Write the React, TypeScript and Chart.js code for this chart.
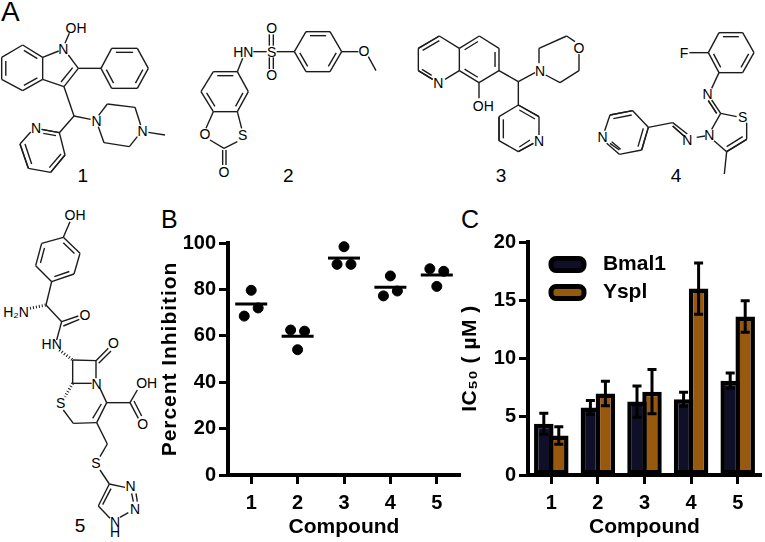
import React, { useEffect, useRef } from "react";
import { Chart, registerables } from "chart.js";

Chart.register(...registerables);

// ---- data ----
const compounds = [1, 2, 3, 4, 5];
const inhibitionMeans = [73.7, 59.8, 93.5, 80.9, 86.2];
const replicateX = [1, 0.85, 1.15, 1.85, 2.15, 2, 3, 2.85, 3.15, 4, 4.15, 3.85, 4.85, 5.15, 5];
const replicateY = [79.6, 68.5, 72, 62.5, 62, 54, 98.4, 90.8, 90.8, 85.8, 79.3, 77.2, 88.9, 87.8, 81.3];

const bmal1 = [4.4, 5.8, 6.3, 6.5, 8.1];
const bmal1Err = [0.9, 0.6, 1.35, 0.6, 0.65];
const yspl = [3.4, 7.0, 7.15, 16.0, 13.6];
const ysplErr = [0.75, 1.05, 1.9, 2.2, 1.35];

const FONT = "'Liberation Sans', Arial, sans-serif";
const NAVY = "#100f28";
const BROWN = "#98590e";

// ---- structure drawing (panel A and compound 5), coordinates in 3x crop space ----
type Pt = [number, number];
type Ring = { pts: Pt[]; doubles: number[] };
type Mol = {
  ox: number;
  oy: number;
  lines: number[][];
  rings: Ring[];
  doubleBonds: number[][];
  hashes: number[][];
  atoms: [string, number, number][];
};

const mols: Mol[] = [
  {
    ox: 0,
    oy: 0,
    rings: [
      { pts: [[68, 135], [128, 172], [128, 238], [68, 272], [5, 238], [5, 172]], doubles: [0, 2, 4] },
      { pts: [[303, 205], [335, 145], [412, 145], [445, 205], [412, 265], [335, 265]], doubles: [1, 3, 5] },
    ],
    lines: [
      [128, 172, 176, 153], [205, 165, 235, 205], [192, 260, 128, 238], [195, 130, 208, 100],
      [235, 205, 303, 205], [192, 260, 222, 348], [222, 348, 272, 358], [222, 348, 178, 398],
      [125, 388, 178, 398], [92, 396, 60, 432], [60, 432, 85, 505], [85, 505, 152, 517], [152, 517, 195, 465], [195, 465, 178, 398],
      [296, 346, 322, 312], [322, 312, 405, 322], [405, 322, 422, 375], [412, 410, 388, 440], [388, 440, 312, 428], [312, 428, 295, 380],
      [445, 397, 495, 405],
    ],
    doubleBonds: [
      [235, 205, 192, 260, 218, 203, 183, 246], [125, 388, 178, 398, 130, 400, 168, 407],
      [60, 432, 85, 505, 75, 432, 95, 492], [152, 517, 195, 465, 148, 503, 183, 462],
    ],
    hashes: [],
    atoms: [["OH", 228, 84], ["N", 190, 148], ["N", 108, 385], ["N", 290, 362], ["N", 428, 392], ["1", 248, 525]],
  },
  {
    ox: 0,
    oy: 0,
    rings: [
      { pts: [[640, 215], [712, 215], [745, 275], [712, 335], [640, 335], [603, 275]], doubles: [0, 2, 4] },
      { pts: [[883, 155], [918, 95], [990, 95], [1025, 155], [990, 215], [918, 215]], doubles: [1, 3, 5] },
    ],
    lines: [
      [712, 335, 725, 385], [712, 425, 672, 445], [672, 445, 630, 420], [618, 385, 640, 335],
      [712, 215, 728, 175], [760, 155, 800, 155], [830, 155, 883, 155], [1025, 155, 1075, 155], [1105, 170, 1128, 212],
      [668, 450, 668, 495], [678, 450, 678, 495],
      [808, 103, 808, 137], [820, 103, 820, 137], [808, 172, 808, 207], [820, 172, 820, 207],
    ],
    doubleBonds: [],
    hashes: [],
    atoms: [["O", 615, 403], ["S", 728, 405], ["O", 672, 515], ["HN", 730, 155], ["S", 815, 155], ["O", 815, 85], ["O", 815, 225], ["O", 1092, 153], ["2", 865, 525]],
  },
  {
    ox: 380,
    oy: 0,
    rings: [
      { pts: [[238, 145], [298, 108], [357, 145], [357, 212], [297, 248], [238, 212]], doubles: [0, 2, 4] },
    ],
    lines: [
      [115, 145, 178, 108], [178, 108, 238, 145], [238, 212, 195, 238], [158, 238, 115, 212], [115, 212, 115, 145],
      [297, 248, 297, 295], [357, 212, 415, 245], [415, 245, 465, 218],
      [477, 190, 477, 145], [477, 145, 560, 108], [560, 108, 585, 125], [597, 162, 597, 212], [597, 212, 540, 248], [540, 248, 497, 225],
      [415, 245, 415, 315], [415, 315, 477, 350], [477, 350, 477, 405], [460, 430, 415, 455], [415, 455, 357, 422], [357, 422, 357, 350], [357, 350, 415, 315],
    ],
    doubleBonds: [
      [115, 145, 178, 108, 128, 151, 178, 122], [158, 238, 115, 212, 155, 226, 126, 208],
      [415, 315, 477, 350, 418, 330, 465, 357], [460, 430, 415, 455, 450, 420, 418, 441], [357, 422, 357, 350, 370, 415, 370, 358],
    ],
    hashes: [],
    atoms: [["N", 175, 248], ["OH", 310, 318], ["N", 480, 212], ["O", 597, 143], ["N", 477, 423], ["3", 363, 525]],
  },
  {
    ox: 380,
    oy: 0,
    rings: [
      { pts: [[985, 158], [1017, 98], [1088, 98], [1122, 158], [1088, 218], [1017, 218]], doubles: [1, 3, 5] },
    ],
    lines: [
      [928, 158, 985, 158], [1017, 218, 995, 265], [1022, 340, 1070, 350], [1100, 368, 1100, 418], [1040, 455, 1002, 422],
      [995, 388, 1022, 340], [1040, 455, 1033, 522], [950, 412, 975, 408], [878, 368, 805, 382],
      [805, 382, 758, 332], [758, 332, 690, 345], [690, 345, 674, 392], [680, 430, 718, 463], [718, 463, 785, 450], [785, 450, 805, 382],
      [995, 300, 1022, 340], [1100, 418, 1040, 455], [922, 402, 878, 368],
    ],
    doubleBonds: [
      [985, 302, 1010, 340, 985, 302, 1010, 340], [1100, 418, 1040, 455, 1088, 410, 1040, 440], [912, 408, 878, 378, 912, 408, 878, 378],
      [758, 332, 690, 345, 755, 345, 700, 356], [690, 430, 718, 450, 695, 425, 722, 448], [785, 450, 805, 382, 774, 440, 790, 385],
    ],
    hashes: [],
    atoms: [["F", 912, 160], ["N", 983, 283], ["S", 1088, 350], ["N", 988, 405], ["N", 922, 420], ["N", 668, 412], ["4", 888, 525]],
  },
  {
    ox: 0,
    oy: 200,
    rings: [
      { pts: [[190, 112], [240, 160], [222, 222], [155, 245], [107, 197], [125, 130]], doubles: [0, 2, 4] },
    ],
    lines: [
      [210, 65, 190, 112], [155, 245, 138, 315], [138, 315, 185, 365], [185, 365, 170, 420],
      [218, 480, 288, 482], [218, 480, 218, 550], [218, 550, 275, 550], [288, 482, 288, 535],
      [190, 630, 220, 670], [220, 670, 290, 668], [320, 608, 300, 565], [320, 608, 390, 608], [390, 608, 412, 570],
      [290, 668, 322, 732], [322, 732, 300, 770], [300, 810, 328, 852], [328, 852, 375, 862], [385, 938, 360, 952], [330, 955, 295, 918],
    ],
    doubleBonds: [
      [185, 365, 235, 348, 190, 378, 238, 358], [288, 482, 325, 445, 296, 490, 333, 453],
      [290, 668, 320, 608, 278, 655, 304, 612], [390, 608, 415, 655, 402, 603, 425, 648],
      [395, 880, 400, 905, 408, 880, 412, 905], [295, 918, 328, 852, 308, 914, 333, 866],
    ],
    hashes: [[90, 325, 138, 315], [178, 450, 218, 480], [218, 550, 195, 590]],
    atoms: [
      ["OH", 225, 45], ["H\u2082N", 48, 335], ["O", 255, 345], ["HN", 155, 433], ["O", 340, 430], ["N", 290, 552], ["S", 182, 610],
      ["OH", 440, 550], ["O", 428, 672], ["S", 288, 790], ["N", 392, 858], ["N", 405, 928], ["N", 345, 965], ["H", 345, 995], ["5", 240, 975],
    ],
  },
];

function innerLine(a: Pt, b: Pt, c: Pt): number[] {
  const ax = a[0] + (c[0] - a[0]) * 0.2, ay = a[1] + (c[1] - a[1]) * 0.2;
  const bx = b[0] + (c[0] - b[0]) * 0.2, by = b[1] + (c[1] - b[1]) * 0.2;
  return [ax + (bx - ax) * 0.08, ay + (by - ay) * 0.08, bx - (bx - ax) * 0.08, by - (by - ay) * 0.08];
}

function Structures() {
  return (
    <svg width={765} height={542} style={{ position: "absolute", left: 0, top: 0 }}>
      {mols.map((m, mi) => {
        const X = (v: number) => m.ox + v / 3;
        const Y = (v: number) => m.oy + v / 3;
        const segs: number[][] = [...m.lines];
        m.rings.forEach((r) => {
          const cx = r.pts.reduce((s, p) => s + p[0], 0) / r.pts.length;
          const cy = r.pts.reduce((s, p) => s + p[1], 0) / r.pts.length;
          r.pts.forEach((p, i) => {
            const q = r.pts[(i + 1) % r.pts.length];
            segs.push([p[0], p[1], q[0], q[1]]);
            if (r.doubles.includes(i)) segs.push(innerLine(p, q, [cx, cy]));
          });
        });
        m.doubleBonds.forEach((d) => {
          segs.push([d[0], d[1], d[2], d[3]]);
          segs.push([d[4], d[5], d[6], d[7]]);
        });
        return (
          <g key={mi}>
            {segs.map((s, i) => (
              <line key={i} x1={X(s[0])} y1={Y(s[1])} x2={X(s[2])} y2={Y(s[3])} stroke="#1c1c1c" strokeWidth={1.4} />
            ))}
            {m.hashes.map((s, i) => (
              <line key={i} x1={X(s[0])} y1={Y(s[1])} x2={X(s[2])} y2={Y(s[3])} stroke="#1c1c1c" strokeWidth={3} strokeDasharray="1 2" />
            ))}
            {m.atoms.map(([t, x, y], i) => {
              const isLabel = /^[1-5]$/.test(t);
              return (
                <text key={i} x={X(x)} y={Y(y)} textAnchor="middle" dominantBaseline="central"
                  fontFamily={FONT} fontSize={isLabel ? 19 : 14} fill="#000">
                  {t}
                </text>
              );
            })}
          </g>
        );
      })}
      <text x={1} y={21} fontFamily={FONT} fontSize={28} fill="#000">A</text>
      <text x={161} y={228} fontFamily={FONT} fontSize={25} fill="#000">B</text>
      <text x={461} y={228} fontFamily={FONT} fontSize={25} fill="#000">C</text>
    </svg>
  );
}

// ---- charts ----
// Only the long rotated axis titles are letter-spaced in the reference.
const titleSpacing = {
  id: "titleSpacing",
  afterLayout(chart: any) {
    const scale = chart.scales.y;
    if (!scale || scale.__spaced) return;
    const orig = scale.drawTitle.bind(scale);
    const px = chart.canvas.dataset.titleSpacing || "0px";
    scale.drawTitle = () => {
      chart.ctx.letterSpacing = px;
      orig();
      chart.ctx.letterSpacing = "0px";
    };
    scale.__spaced = true;
  },
};

// The legend sits inside the plot; nudge it to the free space above the short bars.
const legendPlacement = {
  id: "legendPlacement",
  afterLayout(chart: any) {
    if (chart.legend) {
      chart.legend.left += 16;
      chart.legend.top += 22;
    }
  },
};

const errorBars = {
  id: "errorBars",
  afterDatasetsDraw(chart: any) {
    const { ctx, scales } = chart;
    [bmal1Err, ysplErr].forEach((errs, di) => {
      const vals = chart.data.datasets[di].data;
      chart.getDatasetMeta(di).data.forEach((bar: any, i: number) => {
        const hi = scales.y.getPixelForValue(vals[i] + errs[i]);
        const lo = scales.y.getPixelForValue(vals[i] - errs[i]);
        ctx.save();
        ctx.strokeStyle = "#000";
        ctx.lineWidth = 3;
        ctx.beginPath();
        ctx.moveTo(bar.x, hi);
        ctx.lineTo(bar.x, lo);
        ctx.moveTo(bar.x - 4.5, hi);
        ctx.lineTo(bar.x + 4.5, hi);
        ctx.moveTo(bar.x - 4.5, lo);
        ctx.lineTo(bar.x + 4.5, lo);
        ctx.stroke();
        ctx.restore();
      });
    });
  },
};

const tickFont = { family: FONT, size: 20, weight: "bold" as const };
const titleFont = { family: FONT, size: 21, weight: "bold" as const };

function axisStyle(yWidthFit: number) {
  return {
    border: { display: true, color: "#000", width: 4 },
    grid: { display: true, drawOnChartArea: false, drawTicks: true, color: "#000", tickColor: "#000", tickLength: 9, tickWidth: 3 },
    afterFit: (s: any) => {
      s.width = yWidthFit;
    },
  };
}

export default function App() {
  const bRef = useRef<HTMLCanvasElement>(null);
  const cRef = useRef<HTMLCanvasElement>(null);

  useEffect(() => {
    document.body.style.margin = "0";
    const b = new Chart(bRef.current!, {
      type: "scatter",
      plugins: [titleSpacing],
      data: {
        datasets: [
          {
            label: "Percent Inhibition",
            data: replicateX.map((x, i) => ({ x, y: replicateY[i] })),
            backgroundColor: "#000",
            borderColor: "#000",
            pointRadius: 5,
            clip: false,
          },
          {
            label: "Mean",
            data: compounds.map((x, i) => ({ x, y: inhibitionMeans[i] })),
            pointStyle: "line",
            pointRadius: 16,
            pointBorderWidth: 3,
            borderColor: "#000",
            backgroundColor: "#000",
            clip: false,
          },
        ],
      },
      options: {
        animation: false,
        responsive: false,
        layout: { autoPadding: false, padding: { top: 18, right: 5, left: 0, bottom: 0 } },
        plugins: { legend: { display: false }, tooltip: { enabled: false } },
        scales: {
          x: {
            type: "linear",
            min: 0.5,
            max: 5.5,
            afterBuildTicks: (s: any) => {
              s.ticks = compounds.map((value) => ({ value }));
            },
            border: { display: true, color: "#000", width: 4 },
            grid: { display: true, drawOnChartArea: false, color: "#000", tickColor: "#000", tickLength: 9, tickWidth: 3 },
            ticks: { font: tickFont, color: "#000", padding: 7, maxRotation: 0, autoSkip: false },
            title: { display: true, text: "Compound", font: titleFont, color: "#000", padding: { top: 2, bottom: 2 } },
            afterFit: (s: any) => {
              s.height = 67;
            },
          },
          y: {
            min: 0,
            max: 100,
            ...axisStyle(78),
            ticks: { stepSize: 20, font: tickFont, color: "#000", padding: 3 },
            title: { display: true, text: "Percent Inhibition", font: titleFont, color: "#000", padding: { top: 8, bottom: 8 } },
          },
        },
      },
    } as any);

    const c = new Chart(cRef.current!, {
      type: "bar",
      plugins: [titleSpacing, errorBars, legendPlacement],
      data: {
        labels: compounds,
        datasets: [
          {
            label: "Bmal1",
            data: bmal1,
            backgroundColor: NAVY,
            borderColor: "#000",
            borderWidth: 4.5,
            borderSkipped: false,
            categoryPercentage: 0.644,
            barPercentage: 1.3,
          },
          {
            label: "Yspl",
            data: yspl,
            backgroundColor: BROWN,
            borderColor: "#000",
            borderWidth: 4.5,
            borderSkipped: false,
            categoryPercentage: 0.644,
            barPercentage: 1.3,
          },
        ],
      },
      options: {
        animation: false,
        responsive: false,
        layout: { padding: { top: 17, right: 4, left: 0, bottom: 0 } },
        plugins: {
          tooltip: { enabled: false },
          legend: {
            display: true,
            position: "chartArea",
            align: "start",
            labels: {
              boxWidth: 33,
              boxHeight: 12,
              padding: 7,
              color: "#000",
              useBorderRadius: true,
              borderRadius: 5,
              font: { family: FONT, size: 21, weight: "bold" },
              generateLabels: (chart: any) =>
                chart.data.datasets.map((d: any, i: number) => ({
                  text: "\u2009\u2009" + d.label,
                  fillStyle: d.backgroundColor,
                  strokeStyle: "#000",
                  lineWidth: 5,
                  borderRadius: 5,
                  datasetIndex: i,
                })),
            },
          },
        },
        scales: {
          x: {
            border: { display: true, color: "#000", width: 4 },
            grid: { display: true, drawOnChartArea: false, color: "#000", tickColor: "#000", tickLength: 9, tickWidth: 3, offset: false },
            ticks: { font: tickFont, color: "#000", padding: 7, maxRotation: 0 },
            title: { display: true, text: "Compound", font: titleFont, color: "#000", padding: { top: 2, bottom: 2 } },
            afterFit: (s: any) => {
              s.height = 67;
            },
          },
          y: {
            min: 0,
            max: 20,
            ...axisStyle(78),
            ticks: { stepSize: 5, font: tickFont, color: "#000", padding: 3 },
            title: { display: true, text: "IC\u2085\u2080 ( \u00b5M )", font: titleFont, color: "#000", padding: { top: 8, bottom: 8 } },
          },
        },
      },
    } as any);

    return () => {
      b.destroy();
      c.destroy();
    };
  }, []);

  return (
    <div style={{ position: "relative", width: 765, height: 542, background: "#fff", overflow: "hidden" }}>
      <Structures />
      <canvas ref={bRef} data-title-spacing="0.95px" width={315} height={317} style={{ position: "absolute", left: 150, top: 225 }} />
      <canvas ref={cRef} data-title-spacing="0.5px" width={315} height={317} style={{ position: "absolute", left: 450, top: 225 }} />
    </div>
  );
}
